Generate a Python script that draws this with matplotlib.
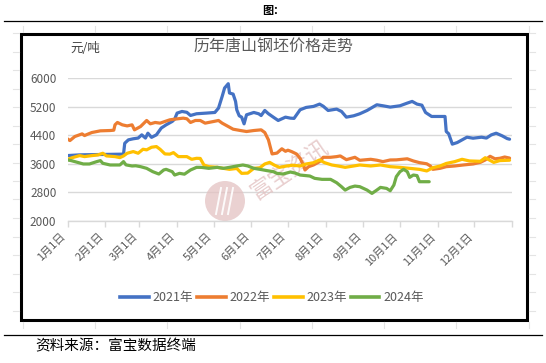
import matplotlib
matplotlib.use("Agg")
import matplotlib.pyplot as plt
from matplotlib.patches import Rectangle, Ellipse
from matplotlib.lines import Line2D

plt.rcParams['font.family'] = ['Noto Sans CJK SC', 'DejaVu Sans']

# ---------------- data ----------------
month_labels = ["1月1日", "2月1日", "3月1日", "4月1日", "5月1日", "6月1日",
                "7月1日", "8月1日", "9月1日", "10月1日", "11月1日", "12月1日"]
month_starts = [0, 31, 59, 90, 120, 151, 181, 212, 243, 273, 304, 334]
year_end = 365

series_names = ["2021年", "2022年", "2023年", "2024年"]
series_colors = ["#4472C4", "#ED7D31", "#FFC000", "#70AD47"]

days_2021 = [0, 10, 27, 46, 47, 50, 54, 58, 61, 64, 66, 69, 73, 77, 81, 86, 88, 90, 94, 98,
             101, 106, 114, 121, 124, 127, 129, 132, 133, 136, 138, 139, 141, 143, 145, 147,
             153, 157, 159, 162, 165, 169, 173, 179, 183, 186, 191, 196, 202, 207, 210, 214,
             221, 225, 229, 235, 240, 246, 254, 259, 265, 273, 279, 283, 287, 291, 294, 299,
             310, 311, 313, 316, 320, 324, 328, 333, 340, 344, 348, 352, 357, 361, 363]
vals_2021 = [3830, 3850, 3860, 3870, 4175, 4270, 4300, 4320, 4410, 4320, 4456, 4340, 4410,
             4600, 4690, 4785, 4850, 5018, 5064, 5040, 4952, 5000, 5018, 5036, 5158, 5485,
             5720, 5840, 5580, 5550, 5345, 5110, 4943, 4905, 4718, 4970, 5036, 4999, 4950,
             5092, 5000, 4905, 4812, 4905, 4877, 4870, 5111, 5177, 5205, 5270, 5210, 5092,
             5130, 5064, 4905, 4943, 4999, 5092, 5251, 5223, 5186, 5223, 5298, 5345, 5270,
             5240, 5036, 4924, 4924, 4503, 4440, 4150, 4194, 4269, 4344, 4316, 4344, 4320,
             4409, 4456, 4381, 4306, 4288]

days_2022 = [0, 2, 6, 12, 14, 16, 20, 27, 35, 38, 39, 41, 45, 49, 53, 55, 60, 65, 68, 72,
             76, 80, 84, 88, 95, 98, 101, 105, 109, 113, 120, 124, 127, 131, 136, 142, 147,
             153, 159, 162, 165, 168, 172, 176, 179, 181, 184, 188, 191, 194, 195, 198, 202,
             207, 210, 216, 221, 224, 229, 236, 240, 249, 254, 259, 265, 270, 279, 284, 289,
             295, 298, 300, 306, 311, 318, 325, 333, 339, 343, 347, 351, 355, 359, 363]
vals_2022 = [4297, 4250, 4363, 4437, 4390, 4420, 4475, 4522, 4531, 4540, 4690, 4756, 4690,
             4660, 4690, 4550, 4643, 4812, 4718, 4756, 4737, 4784, 4830, 4849, 4877, 4860,
             4756, 4812, 4812, 4737, 4784, 4812, 4737, 4662, 4568, 4531, 4503, 4531, 4550,
             4475, 4269, 3876, 3900, 4020, 3950, 3980, 3942, 3876, 3754, 3539, 3427, 3520,
             3567, 3661, 3782, 3782, 3801, 3820, 3716, 3782, 3698, 3726, 3700, 3661, 3707,
             3710, 3740, 3679, 3633, 3600, 3539, 3445, 3474, 3520, 3539, 3567, 3595, 3640,
             3707, 3810, 3740, 3754, 3790, 3760]

days_2023 = [0, 5, 10, 14, 20, 25, 29, 32, 39, 43, 46, 49, 54, 58, 62, 65, 69, 73, 76, 80,
             84, 87, 91, 98, 102, 106, 109, 112, 116, 123, 128, 133, 139, 143, 148, 153, 158,
             162, 166, 170, 174, 180, 185, 191, 196, 202, 207, 211, 217, 222, 228, 235, 240,
             249, 257, 265, 273, 281, 289, 295, 300, 306, 311, 318, 324, 330, 339, 343, 350,
             355, 363]
vals_2023 = [3727, 3782, 3829, 3801, 3829, 3848, 3895, 3820, 3801, 3773, 3820, 3895, 3942,
             3895, 4007, 3990, 4063, 4082, 4007, 3876, 3870, 3913, 3801, 3801, 3726, 3754,
             3750, 3567, 3520, 3501, 3473, 3445, 3470, 3333, 3340, 3473, 3490, 3595, 3640,
             3560, 3501, 3539, 3560, 3539, 3595, 3630, 3707, 3633, 3567, 3539, 3501, 3539,
             3567, 3539, 3567, 3520, 3501, 3473, 3445, 3400, 3490, 3539, 3610, 3661, 3726,
             3680, 3670, 3770, 3640, 3690, 3700]

days_2024 = [0, 3, 9, 13, 18, 24, 27, 29, 35, 43, 46, 48, 53, 56, 60, 65, 70, 75, 79, 81,
             86, 88, 92, 96, 101, 106, 110, 116, 123, 128, 133, 139, 144, 148, 153, 158, 164,
             169, 172, 177, 183, 187, 191, 199, 203, 209, 216, 221, 225, 228, 232, 236, 240,
             246, 250, 254, 257, 262, 265, 268, 270, 273, 276, 279, 281, 284, 287, 289, 294,
             297]
vals_2024 = [3708, 3689, 3633, 3595, 3595, 3661, 3689, 3614, 3567, 3567, 3661, 3570, 3539,
             3545, 3520, 3473, 3380, 3314, 3427, 3445, 3380, 3286, 3333, 3310, 3427, 3501,
             3500, 3473, 3501, 3473, 3501, 3539, 3567, 3540, 3473, 3445, 3408, 3380, 3333,
             3314, 3370, 3340, 3286, 3258, 3193, 3165, 3165, 3071, 2959, 2865, 2940, 2977,
             2960, 2865, 2772, 2865, 2940, 2912, 2847, 3006, 3240, 3380, 3445, 3380, 3221,
             3286, 3270, 3099, 3099, 3099]

series_days = [days_2021, days_2022, days_2023, days_2024]
series_vals = [vals_2021, vals_2022, vals_2023, vals_2024]

y_ticks = [2000, 2800, 3600, 4400, 5200, 6000]

# ---------------- figure ----------------
W, H = 546, 363
fig = plt.figure(figsize=(W / 100, H / 100), dpi=100)
fig.patch.set_facecolor("white")

def fx(x):
    return x / W

def fy(y):
    return 1 - y / H

txt_gray = "#595959"
grid_gray = "#d9d9d9"

# page decorations
fig.text(fx(273), fy(10.5), "图：", ha="center", va="center", fontsize=8, fontweight="bold", color="black")
fig.add_artist(Line2D([fx(4), fx(542)], [fy(21), fy(21)], color="black", lw=0.9))
fig.add_artist(Line2D([fx(4), fx(542)], [fy(334.5), fy(334.5)], color="black", lw=0.9))
fig.text(fx(35), fy(346), "资料来源：富宝数据终端", ha="left", va="center", fontsize=10.5, color="black")

# faint table grid marks
faint = "#e4e4e4"
for k in range(8):
    xx = 22.7 + 72.3 * k
    fig.add_artist(Line2D([fx(xx), fx(xx)], [fy(26), fy(32)], color=faint, lw=0.8))
    fig.add_artist(Line2D([fx(xx), fx(xx)], [fy(322), fy(328)], color=faint, lw=0.8))
for k in range(16):
    yy = 33 + 18.5 * k
    fig.add_artist(Line2D([fx(13), fx(19)], [fy(yy), fy(yy)], color=faint, lw=0.8))
    fig.add_artist(Line2D([fx(529), fx(535)], [fy(yy), fy(yy)], color=faint, lw=0.8))

# thick black chart border
fig.add_artist(Rectangle((fx(20.5), fy(320)), fx(527) - fx(20.5), fy(33.5) - fy(320),
                         fill=False, edgecolor="black", lw=2.2, transform=fig.transFigure))

# axes
ax = fig.add_axes([fx(67.5), fy(221), fx(512) - fx(67.5), fy(78) - fy(221)])
ax.set_facecolor("none")
ax.set_xlim(0, year_end)
ax.set_ylim(2000, 6000)
for s in ["left", "right", "top"]:
    ax.spines[s].set_visible(False)
ax.spines["bottom"].set_color(grid_gray)
ax.spines["bottom"].set_linewidth(1.0)
ax.set_yticks(y_ticks)
ax.set_yticklabels([str(v) for v in y_ticks], fontsize=8.5, color=txt_gray)
ax.tick_params(axis="y", length=0, pad=8)
ax.yaxis.grid(True, color=grid_gray, lw=1.0)
ax.set_axisbelow(True)
ax.set_xticks(month_starts + [year_end])
ax.set_xticklabels(month_labels + [""], rotation=45, ha="right", va="top",
                   fontsize=8, color=txt_gray)
ax.tick_params(axis="x", length=4.5, color=grid_gray, width=1.0, pad=3)

# watermark (logo + text)
wm = "#e3c2c2"
ax.add_artist(Ellipse((fx(225), fy(201)), 40 / W, 40 / H, transform=fig.transFigure,
                      facecolor=wm, edgecolor="none", alpha=0.75, zorder=1, clip_on=False))
for dx in (-6, 0, 6):
    ax.add_artist(Line2D([fx(225 + dx - 3), fx(225 + dx + 2)], [fy(214), fy(188)],
                         transform=fig.transFigure, color="white", lw=1.4, alpha=0.9,
                         zorder=1.5, clip_on=False))
ax.text(fx(289), fy(170), "富宝资讯", rotation=34, ha="center", va="center",
        transform=fig.transFigure, fontsize=16, color=wm, alpha=0.8, zorder=1.2)

for name, color, d, v in zip(series_names, series_colors, series_days, series_vals):
    ax.plot(d, v, color=color, lw=2.3, label=name, solid_joinstyle="round",
            solid_capstyle="round", zorder=3)

# title and unit
fig.text(fx(273), fy(47), "历年唐山钢坯价格走势", ha="center", va="center", fontsize=11.5, color=txt_gray)
fig.text(fx(70), fy(48), "元/吨", ha="left", va="center", fontsize=9, color="#404040")

# legend
handles = [Line2D([0], [0], color=c, lw=2.6) for c in series_colors]
leg = fig.legend(handles, series_names, loc="center", bbox_to_anchor=(fx(272), fy(298)),
                 ncol=4, frameon=False, fontsize=9, handlelength=2.3, handletextpad=0.3,
                 columnspacing=0.3, labelcolor=txt_gray, borderpad=0)

fig.savefig("out.png", dpi=100)
